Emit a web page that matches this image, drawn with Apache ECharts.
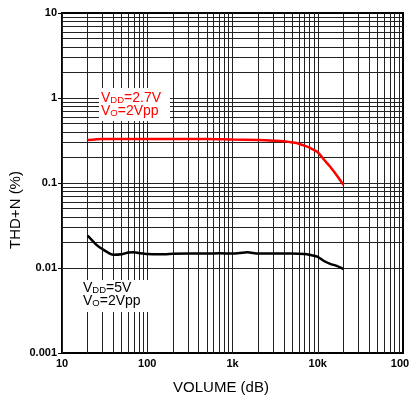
<!DOCTYPE html>
<html>
<head>
<meta charset="utf-8">
<script src="https://cdn.jsdelivr.net/npm/echarts@6/dist/echarts.min.js"></script>
<style>
  html, body { margin: 0; padding: 0; background: #fff; }
  #chart { width: 409px; height: 399px; }
</style>
</head>
<body>
<div id="chart"></div>
<script>
// frequency points (Hz) and THD+N (%)
const freqRed = [20, 30, 50, 100, 200, 500, 1000, 2000, 3000, 4000, 5000, 6000, 7000, 8000, 10000, 12000, 14000, 17000, 20000]
const thdRed = [0.32, 0.33, 0.33, 0.33, 0.33, 0.33, 0.325, 0.32, 0.315, 0.31, 0.30, 0.29, 0.275, 0.26, 0.23, 0.185, 0.155, 0.12, 0.095]

const freqBlack = [20, 25, 30, 40, 50, 60, 70, 80, 100, 150, 200, 300, 500, 700, 1000, 1500, 2000, 3000, 5000, 7000, 8000, 10000, 12000, 14000, 17000, 20000]
const thdBlack = [0.024, 0.019, 0.0166, 0.0143, 0.0145, 0.0152, 0.0153, 0.015, 0.0146, 0.0145, 0.0147, 0.0148, 0.0148, 0.0149, 0.0148, 0.0153, 0.0148, 0.0148, 0.0148, 0.0146, 0.0143, 0.0135, 0.012, 0.0112, 0.0105, 0.0097]

const xTickLabels = { 10: '10', 100: '100', 1000: '1k', 10000: '10k', 100000: '100k' }

// log grid lines (1..9 of every decade)
const xGrid = []
for (let d = 10; d < 100000; d *= 10) for (let k = 1; k <= 9; k++) xGrid.push(d * k)
const yGrid = []
for (let d = 0.001; d < 9; d *= 10) for (let k = 1; k <= 9; k++) yGrid.push(+(d * k).toPrecision(3))

const toPairs = (xs, ys) => xs.map((x, i) => [x, ys[i]])

const chart = echarts.init(document.getElementById('chart'))
const font = 'Liberation Sans, Arial, sans-serif'

const label = (lines, color) => ({
  text: lines,
  rich: {
    a: { fontFamily: font, fontSize: 14, fill: color, lineHeight: 13, verticalAlign: 'bottom' },
    s: { fontFamily: font, fontSize: 9.5, fill: color, lineHeight: 13, verticalAlign: 'bottom' }
  }
})

chart.setOption({
  animation: false,
  backgroundColor: '#fff',
  grid: {
    left: 62, right: 6, top: 13, bottom: 46,
    containLabel: false, outerBoundsMode: 'none',
    show: true, borderColor: '#000', borderWidth: 2
  },
  xAxis: {
    type: 'log', logBase: 10, min: 10, max: 100000,
    axisLine: { lineStyle: { color: '#000', width: 2 } },
    axisTick: { show: false },
    splitLine: { show: false },
    axisLabel: {
      fontFamily: font, fontSize: 11, fontWeight: 'bold', color: '#000', margin: 5,
      formatter: v => xTickLabels[Math.round(v)] || ''
    }
  },
  yAxis: {
    type: 'log', logBase: 10, min: 0.001, max: 10,
    axisLine: { lineStyle: { color: '#000', width: 2 } },
    axisTick: { show: true, length: 4, lineStyle: { color: '#000' } },
    splitLine: { show: false },
    axisLabel: {
      fontFamily: font, fontSize: 11, fontWeight: 'bold', color: '#000', margin: 5,
      formatter: v => String(+v.toPrecision(3))
    }
  },
  series: [
    {
      type: 'line', data: [], silent: true,
      markLine: {
        silent: true, symbol: 'none', label: { show: false },
        lineStyle: { color: '#222', width: 1, type: 'solid' },
        data: xGrid.map(v => ({ xAxis: v })).concat(yGrid.map(v => ({ yAxis: v })))
      }
    },
    {
      name: 'VDD=2.7V', type: 'line', data: toPairs(freqRed, thdRed),
      showSymbol: false, smooth: 0.3, lineStyle: { color: '#ff0000', width: 2.5 }, z: 5
    },
    {
      name: 'VDD=5V', type: 'line', data: toPairs(freqBlack, thdBlack),
      showSymbol: false, smooth: 0.2, lineStyle: { color: '#000', width: 2.5 }, z: 5
    }
  ],
  graphic: [
    {
      type: 'text', z: 11, x: 16, y: 210, rotation: Math.PI / 2,
      style: { text: 'THD+N (%)', fontFamily: font, fontSize: 15, fill: '#000', align: 'center', verticalAlign: 'middle' }
    },
    {
      type: 'text', z: 11, x: 221, y: 388,
      style: { text: 'VOLUME (dB)', fontFamily: font, fontSize: 15, fill: '#000', align: 'center', verticalAlign: 'middle' }
    },
    { type: 'rect', shape: { x: 99, y: 88, width: 71, height: 33 }, style: { fill: '#fff' }, z: 10 },
    { type: 'text', left: 101, top: 91, z: 11, style: label('{a|V}{s|DD}{a|=2.7V}\n{a|V}{s|O}{a|=2Vpp}', '#ff0000') },
    { type: 'rect', shape: { x: 83, y: 280, width: 80, height: 32 }, style: { fill: '#fff' }, z: 10 },
    { type: 'text', left: 83, top: 281, z: 11, style: label('{a|V}{s|DD}{a|=5V}\n{a|V}{s|O}{a|=2Vpp}', '#000') }
  ]
})
</script>
</body>
</html>
